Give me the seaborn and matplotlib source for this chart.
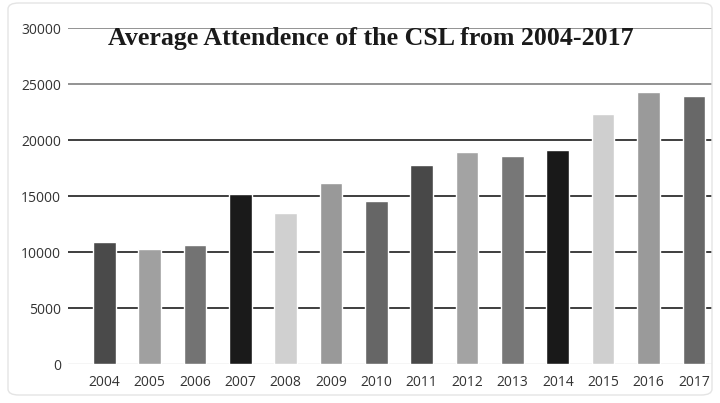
import matplotlib
matplotlib.use("Agg")
import matplotlib.pyplot as plt
import seaborn as sns
import pandas as pd
from matplotlib.patches import FancyBboxPatch

years = ["2004", "2005", "2006", "2007", "2008", "2009", "2010",
         "2011", "2012", "2013", "2014", "2015", "2016", "2017"]
attendance = [10850, 10300, 10630, 15220, 13490, 16160, 14570,
              17750, 18890, 18600, 19070, 22310, 24270, 23910]
bar_colors = ["#4a4a4a", "#a0a0a0", "#737373", "#1a1a1a", "#d0d0d0", "#999999", "#666666",
              "#484848", "#a3a3a3", "#777777", "#191919", "#cfcfcf", "#9a9a9a", "#686868"]
y_ticks = [0, 5000, 10000, 15000, 20000, 25000, 30000]
title = "Average Attendence of the CSL from 2004-2017"

df = pd.DataFrame({"year": years, "attendance": attendance})

sns.set_theme(style="white")
fig = plt.figure(figsize=(7.2, 4.03), dpi=100)
ax = fig.add_axes([68/720, 1-364/403, (712-68)/720, (364-28)/403])

# chart border
fig.patches.append(FancyBboxPatch((8/720, 8/403), 704/720, 392/403,
                                  boxstyle="round,pad=0,rounding_size=0.015",
                                  transform=fig.transFigure, fill=False,
                                  edgecolor="#e4e4e4", linewidth=1.0))

# gridlines
for t in y_ticks:
    if t == 0:
        c, lw = "#cfcfcf", 1.0
    elif t >= 25000:
        c, lw = "#8a8a8a", 1.3
    else:
        c, lw = "#1e1e1e", 1.2
    ax.axhline(t, color=c, linewidth=lw, zorder=0)

sns.barplot(data=df, x="year", y="attendance", hue="year", palette=bar_colors,
            legend=False, width=0.5, saturation=1, ax=ax, zorder=2)

ax.set_ylim(0, 30000)
ax.set_xlim(-0.8, 13.4)
ax.set_yticks(y_ticks)
ax.set_yticklabels([str(t) for t in y_ticks])
ax.set_xlabel("")
ax.set_ylabel("")
for s in ax.spines.values():
    s.set_visible(False)
ax.tick_params(axis="both", length=0, labelsize=10, labelcolor="#333333")
ax.tick_params(axis="y", pad=5)
ax.tick_params(axis="x", pad=8)
for lab in ax.get_xticklabels() + ax.get_yticklabels():
    lab.set_family("Open Sans")

fig.text(108/720, 1-39/403, title, family="Liberation Serif", fontweight="bold",
         fontsize=18.6, color="#1a1a1a", ha="left", va="center")

fig.savefig("out.png", dpi=100, facecolor="white")
